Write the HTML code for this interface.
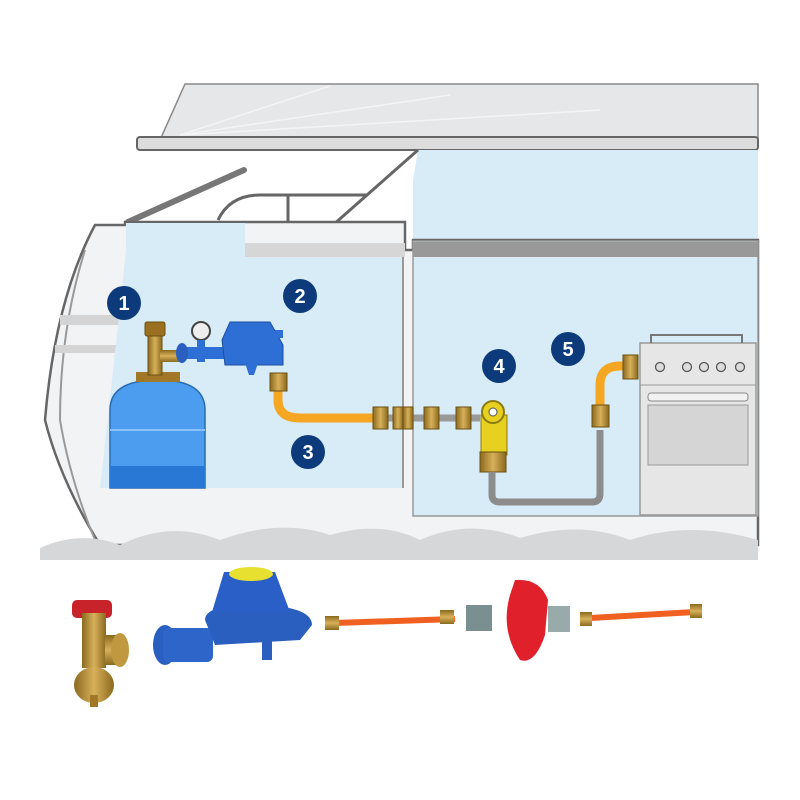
<!DOCTYPE html>
<html><head><meta charset="utf-8"><style>
html,body{margin:0;padding:0;background:#fff;}
svg{display:block}
text{font-family:"Liberation Sans",sans-serif;font-weight:bold}
</style></head><body>
<svg width="800" height="800" viewBox="0 0 800 800" xmlns="http://www.w3.org/2000/svg">
<defs>
<linearGradient id="brass" x1="0" y1="0" x2="1" y2="0"><stop offset="0" stop-color="#8a6a1e"/><stop offset=".5" stop-color="#d8b05a"/><stop offset="1" stop-color="#8a6a1e"/></linearGradient>
<linearGradient id="brassV" x1="0" y1="0" x2="0" y2="1"><stop offset="0" stop-color="#8a6a1e"/><stop offset=".5" stop-color="#d8b05a"/><stop offset="1" stop-color="#8a6a1e"/></linearGradient>
</defs>
<!-- roof -->
<polygon points="185,84 758,84 758,140 160,140" fill="#e6e7e9" stroke="#888" stroke-width="1.5"/>
<g stroke="#f4f4f4" stroke-width="1.5"><line x1="180" y1="135" x2="330" y2="86"/><line x1="180" y1="135" x2="450" y2="95"/><line x1="180" y1="135" x2="600" y2="110"/></g>
<rect x="137" y="137" width="621" height="13" rx="3" fill="#dcdcdc" stroke="#666" stroke-width="2"/>
<!-- superstructure -->
<polygon points="418,150 758,150 758,250 413,250 413,180" fill="#d8ecf8"/>
<path d="M418,150 L333,225" stroke="#666" stroke-width="3" fill="none"/>
<path d="M218,220 Q230,195 260,195 L368,195" stroke="#666" stroke-width="3" fill="none"/>
<line x1="288" y1="195" x2="288" y2="222" stroke="#666" stroke-width="3"/>
<path d="M128,222 L244,170" stroke="#777" stroke-width="6" stroke-linecap="round"/>
<!-- hull -->
<path d="M95,225 L125,225 L125,222 L405,222 L405,250 L413,250 L413,240 L758,240 L758,545 L100,545 Q60,480 45,420 Q55,300 95,225 Z" fill="#f2f3f5" stroke="#666" stroke-width="2.5"/>
<path d="M85,250 Q60,330 60,420 Q70,480 95,540" stroke="#999" stroke-width="2" fill="none"/>
<rect x="60" y="315" width="60" height="10" fill="#d4d4d4"/>
<rect x="55" y="345" width="65" height="8" fill="#d4d4d4"/>
<rect x="245" y="243" width="160" height="14" fill="#d6d6d6"/>
<!-- left compartment -->
<path d="M126,223 L245,223 L245,257 L403,257 L403,488 L100,488 Q110,400 126,250 Z" fill="#d8ecf8"/>
<line x1="403" y1="257" x2="403" y2="488" stroke="#999" stroke-width="2"/>
<!-- right compartment -->
<rect x="413" y="241" width="345" height="275" fill="#d8ecf8" stroke="#999" stroke-width="1.5"/>
<rect x="413" y="242" width="345" height="15" fill="#999"/>
<!-- waves -->
<path d="M40,560 L40,548 Q80,530 120,545 Q170,520 220,540 Q280,518 330,535 Q380,520 420,540 Q470,518 520,538 Q580,520 630,540 Q690,520 758,540 L758,560 Z" fill="#d6d7d9"/>
<!-- cylinder -->
<path d="M110,488 L110,410 Q110,380 158,380 Q205,380 205,410 L205,488 Z" fill="#4c9df0" stroke="#2a6bb0" stroke-width="1.5"/>
<rect x="110" y="466" width="95" height="22" fill="#2a78d6"/>
<line x1="110" y1="430" x2="205" y2="430" stroke="#8ac0f4" stroke-width="2"/>
<!-- valve -->
<rect x="136" y="372" width="44" height="10" fill="#a07828"/>
<rect x="148" y="330" width="14" height="45" fill="url(#brass)" stroke="#6a5010"/>
<rect x="145" y="322" width="20" height="14" rx="2" fill="#9a7020" stroke="#6a5010"/>
<rect x="160" y="350" width="20" height="12" fill="url(#brassV)"/>
<!-- regulator -->
<rect x="178" y="347" width="100" height="12" fill="#2d6fd4"/>
<ellipse cx="182" cy="353" rx="6" ry="10" fill="#2a5fc0"/>
<circle cx="201" cy="331" r="9" fill="#eee" stroke="#444" stroke-width="2"/>
<rect x="197" y="340" width="8" height="22" fill="#2d6fd4"/>
<path d="M230,322 L270,322 L283,345 L283,365 L225,365 L222,340 Z" fill="#2d6fd4" stroke="#1d4fa0"/>
<rect x="275" y="330" width="8" height="8" fill="#2d6fd4"/>
<path d="M245,363 L258,363 L254,375 L249,375 Z" fill="#2d6fd4"/>
<!-- orange hose -->
<path d="M278,385 L278,400 Q278,418 300,418 L380,418" stroke="#f5a623" stroke-width="9" fill="none"/>
<rect x="270" y="373" width="17" height="18" fill="url(#brass)" stroke="#6a5010"/>
<line x1="380" y1="418" x2="480" y2="418" stroke="#999" stroke-width="7"/>
<rect x="373" y="407" width="15" height="22" fill="url(#brass)" stroke="#6a5010"/>
<rect x="393" y="407" width="10" height="22" fill="url(#brass)" stroke="#6a5010"/>
<rect x="403" y="407" width="10" height="22" fill="url(#brass)" stroke="#6a5010"/>
<rect x="424" y="407" width="15" height="22" fill="url(#brass)" stroke="#6a5010"/>
<rect x="456" y="407" width="15" height="22" fill="url(#brass)" stroke="#6a5010"/>
<!-- shutoff valve -->
<rect x="481" y="415" width="26" height="40" fill="#e8d020" stroke="#8a7a10"/>
<circle cx="493" cy="412" r="11" fill="#e8d020" stroke="#8a7a10" stroke-width="2"/>
<circle cx="493" cy="412" r="4" fill="#fff" stroke="#555"/>
<rect x="480" y="452" width="26" height="20" fill="url(#brass)" stroke="#6a5010"/>
<!-- gray pipe -->
<path d="M492,472 L492,495 Q492,502 500,502 L592,502 Q600,502 600,494 L600,430" stroke="#8c8c8c" stroke-width="7" fill="none"/>
<path d="M600,425 L600,385 Q600,366 620,366 L628,366" stroke="#f5a623" stroke-width="9" fill="none"/>
<rect x="592" y="405" width="17" height="22" fill="url(#brass)" stroke="#6a5010"/>
<rect x="623" y="355" width="15" height="24" fill="url(#brass)" stroke="#6a5010"/>
<!-- stove -->
<rect x="640" y="343" width="116" height="172" fill="#e6e6e6" stroke="#999" stroke-width="1.5"/>
<path d="M651,343 L651,335 L742,335 L742,343" stroke="#777" stroke-width="2" fill="none"/>
<line x1="640" y1="385" x2="756" y2="385" stroke="#999"/>
<g fill="#ddd" stroke="#555" stroke-width="1.3"><circle cx="660" cy="367" r="4.5"/><circle cx="687" cy="367" r="4.5"/><circle cx="704" cy="367" r="4.5"/><circle cx="721" cy="367" r="4.5"/><circle cx="740" cy="367" r="4.5"/></g>
<rect x="648" y="393" width="100" height="8" rx="3" fill="#f2f2f2" stroke="#888"/>
<rect x="648" y="405" width="100" height="60" fill="#d5d5d5" stroke="#999"/>
<!-- numbers -->
<g fill="#0d3a7a"><circle cx="124" cy="303" r="17"/><circle cx="300" cy="296" r="17"/><circle cx="308" cy="452" r="17"/><circle cx="499" cy="366" r="17"/><circle cx="568" cy="349" r="17"/></g>
<g fill="#fff" font-size="20" text-anchor="middle"><text x="124" y="310">1</text><text x="300" y="303">2</text><text x="308" y="459">3</text><text x="499" y="373">4</text><text x="568" y="356">5</text></g>
<!-- bottom products -->
<rect x="72" y="600" width="40" height="18" rx="5" fill="#c8222a"/>
<rect x="82" y="613" width="24" height="55" fill="url(#brass)"/>
<ellipse cx="94" cy="685" rx="20" ry="18" fill="url(#brass)"/>
<rect x="90" y="695" width="8" height="12" fill="#a07828"/>
<rect x="105" y="635" width="14" height="30" fill="url(#brassV)"/>
<ellipse cx="120" cy="650" rx="9" ry="17" fill="#c09840"/>
<ellipse cx="165" cy="645" rx="12" ry="20" fill="#2a5fc0"/>
<rect x="163" y="628" width="50" height="34" rx="6" fill="#2d66c8"/>
<path d="M205,620 Q205,605 250,605 Q312,605 312,625 L300,640 L215,645 Z" fill="#2a5fc0"/>
<path d="M224,572 L275,572 L290,612 L212,612 Z" fill="#2a5fc8"/>
<ellipse cx="251" cy="574" rx="22" ry="7" fill="#e8e030"/>
<rect x="262" y="640" width="10" height="20" fill="#2a5fc0"/>
<line x1="335" y1="623" x2="455" y2="619" stroke="#f06020" stroke-width="6"/>
<rect x="325" y="616" width="14" height="14" fill="url(#brassV)"/>
<rect x="440" y="610" width="14" height="14" fill="url(#brassV)"/>
<rect x="466" y="605" width="26" height="26" fill="#7a9090"/>
<rect x="548" y="606" width="22" height="26" fill="#9aa"/>
<path d="M515,580 Q540,578 548,600 L545,635 Q535,665 520,660 Q500,630 510,595 Z" fill="#e0202a"/>
<line x1="590" y1="618" x2="695" y2="612" stroke="#f06020" stroke-width="6"/>
<rect x="580" y="612" width="12" height="14" fill="url(#brassV)"/>
<rect x="690" y="604" width="12" height="14" fill="url(#brassV)"/>
</svg>
</body></html>
